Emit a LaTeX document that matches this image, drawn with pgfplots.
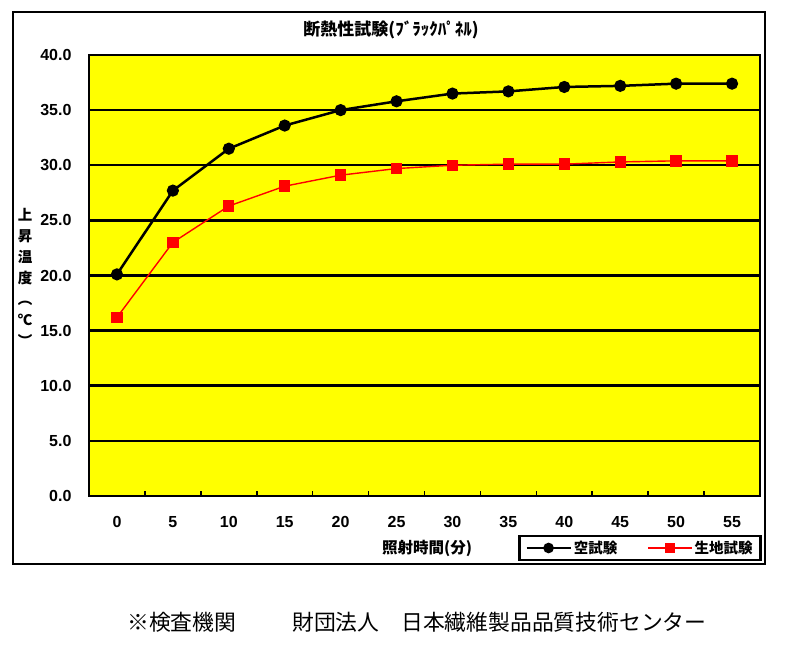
\documentclass[border=0pt]{standalone}
\usepackage{fontspec}
\setmainfont{Liberation Sans}
\newfontfamily\jp{Noto Sans CJK JP}
\usepackage{pgfplots}
\pgfplotsset{compat=1.18}
\definecolor{plotyellow}{RGB}{255,255,0}
\definecolor{plotred}{RGB}{255,0,0}
\begin{document}
\begin{tikzpicture}[x=1pt,y=1pt]
\path[use as bounding box] (0,0) rectangle (789,645);
\fill[white] (0,0) rectangle (789,645);
\draw[line width=2.8pt] (13,81) rectangle (765,633);
\begin{axis}[
  at={(89pt,149pt)}, anchor=south west, scale only axis,
  width=671pt, height=441pt,
  xmin=-0.5, xmax=11.5, ymin=0, ymax=40,
  axis background/.style={fill=plotyellow},
  axis line style={line width=2.6pt},
  ytick={0,5,...,40},
  ymajorgrids, grid style={black, line width=2.5pt},
  xtick={0.5,1.5,...,11.5},
  xticklabels={0,5,10,15,20,25,30,35,40,45,50,55},
  tick pos=left, tick align=inside, major tick length=5pt,
  tick style={black, line width=1.6pt},
  xticklabel style={xshift=-27.96pt, yshift=-17pt},
  yticklabel style={xshift=-14pt, /pgf/number format/fixed, /pgf/number format/fixed zerofill, /pgf/number format/precision=1},
  ticklabel style={font=\bfseries\fontsize{16}{16}\selectfont},
  /pgf/number format/assume math mode=true,
  legend style={at={(0.8212,-0.1179)}, anchor=center, draw=black, line width=2.6pt,
    font=\jp\bfseries\fontsize{14.5}{14.5}\selectfont, inner xsep=6pt, inner ysep=3pt},
  legend columns=2,
  /tikz/every even column/.append style={column sep=28pt},
  legend image code/.code={\draw[mark repeat=2,mark phase=2,mark size=4pt] plot coordinates {(0pt,0pt) (22pt,0pt) (44pt,0pt)};},
]
\addplot[black, line width=2.5pt, mark=*, mark size=4.8pt, mark options={solid}]
  coordinates {(0,20.1)(1,27.7)(2,31.5)(3,33.6)(4,35.0)(5,35.8)(6,36.5)(7,36.7)(8,37.1)(9,37.2)(10,37.4)(11,37.4)};
\addlegendentry{空試験}
\addplot[plotred, line width=1.4pt, mark=square*, mark size=5pt, mark options={solid}]
  coordinates {(0,16.2)(1,23.0)(2,26.3)(3,28.1)(4,29.1)(5,29.7)(6,30.0)(7,30.1)(8,30.1)(9,30.3)(10,30.4)(11,30.4)};
\addlegendentry{生地試験}
\end{axis}
\node[font=\jp\bfseries\fontsize{17}{17}\selectfont] at (391,615) {断熱性試験(ﾌﾞﾗｯｸﾊﾟﾈﾙ)};
\node[font=\jp\bfseries\fontsize{15.5}{15.5}\selectfont] at (427,97) {照射時間(分)};
\node[font=\jp\bfseries\fontsize{14.5}{21}\selectfont, align=center] at (25,368) {上\\昇\\温\\度\\︵\\℃\\︶};
\node[font=\jp\fontsize{21.8}{22}\selectfont, anchor=west, inner sep=0pt] at (127,23) {※検査機関};
\node[font=\jp\fontsize{21.8}{22}\selectfont, anchor=west, inner sep=0pt] at (292,23) {財団法人　日本繊維製品品質技術センター};
\end{tikzpicture}
\end{document}
